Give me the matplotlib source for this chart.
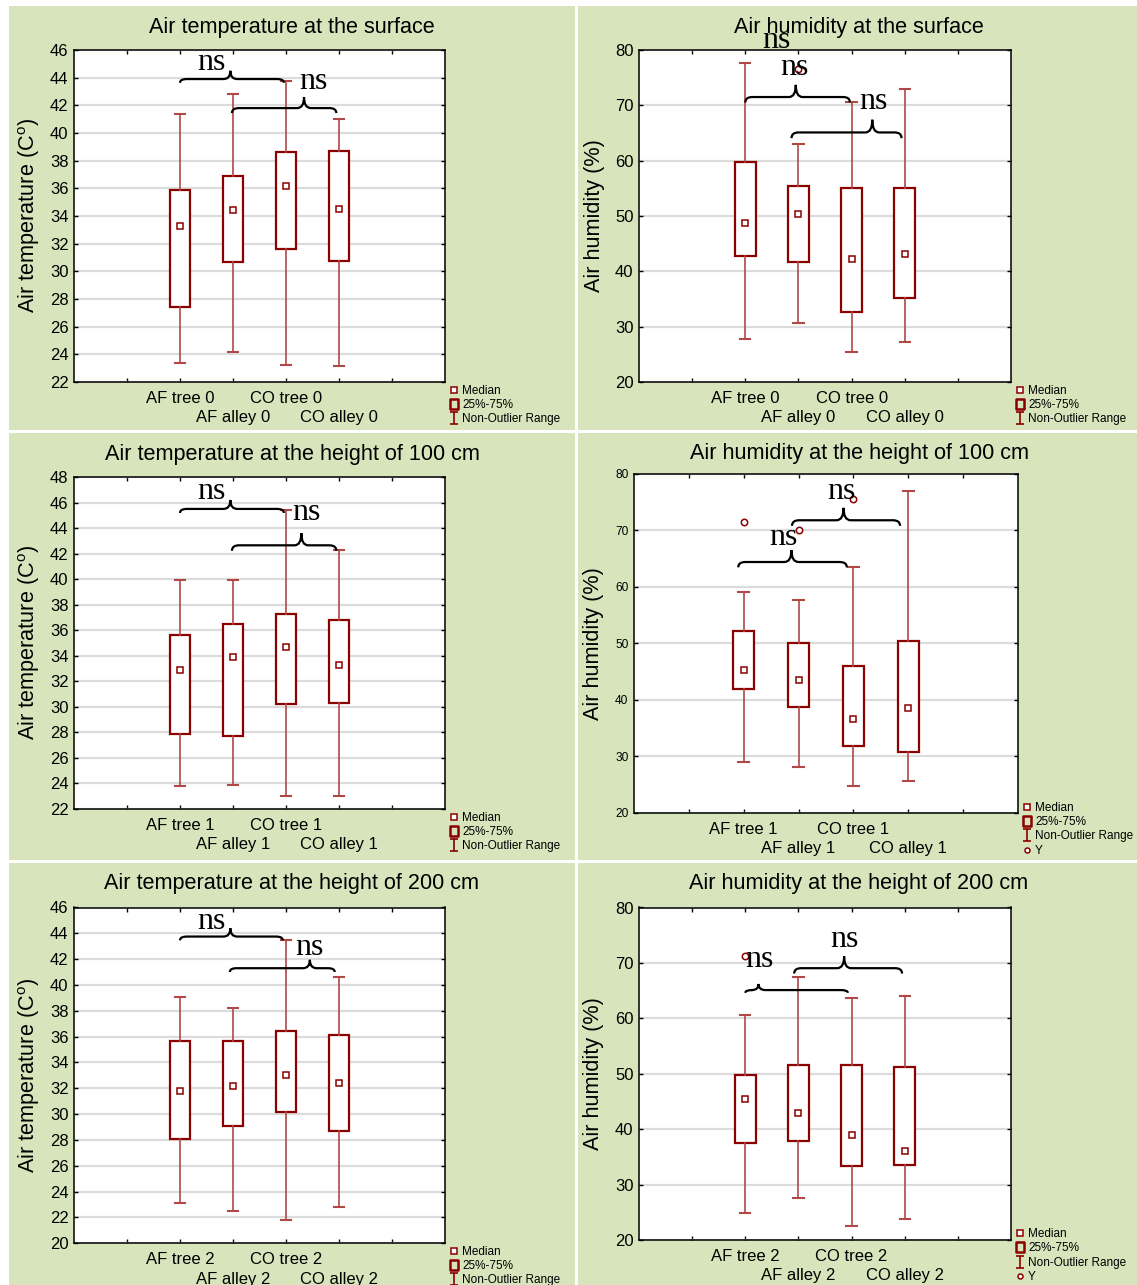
import matplotlib
matplotlib.use("Agg")
import matplotlib.pyplot as plt
from matplotlib.path import Path
from matplotlib.patches import PathPatch, Rectangle
from matplotlib.lines import Line2D

# figure size in pixels
W, H = 1137, 1285

plt.rcParams['font.family'] = ['Liberation Sans', 'DejaVu Sans']
plt.rcParams['mathtext.fontset'] = 'custom'
plt.rcParams['mathtext.rm'] = 'Liberation Sans'
plt.rcParams['mathtext.it'] = 'Liberation Sans:italic'

GREEN = '#D8E4BC'
RED = '#8B0000'
WHISK = '#B04848'
GRID = '#DCDCDC'

# ---- data ----
groups = ['AF tree', 'AF alley', 'CO tree', 'CO alley']
positions = [2, 3, 4, 5]

# temperature, surface
t0_lo = [23.4, 24.2, 23.2, 23.15]
t0_q1 = [27.45, 30.7, 31.65, 30.75]
t0_med = [33.3, 34.45, 36.2, 34.5]
t0_q3 = [35.9, 36.9, 38.6, 38.7]
t0_hi = [41.4, 42.85, 43.75, 41.0]
t0_out = [[], [], [], []]

# humidity, surface
h0_lo = [27.8, 30.7, 25.5, 27.2]
h0_q1 = [42.8, 41.7, 32.6, 35.2]
h0_med = [48.8, 50.3, 42.2, 43.2]
h0_q3 = [59.7, 55.5, 55.0, 55.0]
h0_hi = [77.6, 63.0, 70.6, 73.0]
h0_out = [[], [76.6], [], []]

# temperature, 100 cm
t1_lo = [23.8, 23.85, 23.05, 23.05]
t1_q1 = [27.9, 27.75, 30.25, 30.3]
t1_med = [32.9, 33.9, 34.7, 33.3]
t1_q3 = [35.6, 36.45, 37.3, 36.8]
t1_hi = [39.9, 39.9, 45.45, 42.25]
t1_out = [[], [], [], []]

# humidity, 100 cm
h1_lo = [29.0, 28.0, 24.7, 25.55]
h1_q1 = [41.9, 38.7, 31.8, 30.7]
h1_med = [45.25, 43.5, 36.6, 38.5]
h1_q3 = [52.2, 50.1, 46.0, 50.4]
h1_hi = [59.0, 57.7, 63.5, 77.0]
h1_out = [[71.5], [70.0], [75.5], []]

# temperature, 200 cm
t2_lo = [23.1, 22.5, 21.8, 22.8]
t2_q1 = [28.1, 29.05, 30.15, 28.7]
t2_med = [31.8, 32.2, 33.0, 32.4]
t2_q3 = [35.7, 35.7, 36.4, 36.1]
t2_hi = [39.05, 38.2, 43.45, 40.65]
t2_out = [[], [], [], []]

# humidity, 200 cm
h2_lo = [24.8, 27.5, 22.5, 23.8]
h2_q1 = [37.5, 37.9, 33.4, 33.6]
h2_med = [45.5, 42.9, 39.0, 36.0]
h2_q3 = [49.7, 51.5, 51.5, 51.3]
h2_hi = [60.6, 67.5, 63.6, 64.05]
h2_out = [[71.2], [], [], []]

# braces: (x start, x end, x tip, y, y tip)   and "ns" labels: (x, y baseline)
t0_braces = [(2.0, 3.96, 2.95, 43.9, 44.5), (2.98, 4.95, 4.34, 41.8, 42.6)]
t0_ns = [(2.6, 44.55), (4.52, 43.2)]
h0_braces = [(2.0, 3.97, 2.95, 71.5, 73.7), (2.87, 4.94, 4.39, 65.1, 67.4)]
h0_ns = [(2.58, 80.3), (2.93, 75.5), (4.41, 69.3)]
t1_braces = [(2.0, 3.96, 2.95, 45.5, 46.2), (2.98, 4.95, 4.29, 42.65, 43.6)]
t1_ns = [(2.6, 46.25), (4.38, 44.6)]
h1_braces = [(1.9, 3.88, 2.87, 64.4, 66.5), (2.88, 4.85, 3.82, 71.8, 74.0)]
h1_ns = [(2.72, 67.4), (3.78, 75.5)]
t2_braces = [(2.0, 3.94, 2.95, 43.75, 44.4), (2.94, 4.92, 4.45, 41.3, 41.95)]
t2_ns = [(2.6, 44.3), (4.45, 42.3)]
h2_braces = [(2.0, 3.93, 2.25, 65.1, 66.2), (2.92, 4.95, 3.86, 69.05, 71.2)]
h2_ns = [(2.27, 69.2), (3.86, 72.8)]

temp_label = 'Air temperature (C$^{\\mathrm{o}}$)'
hum_label = 'Air humidity (%)'

# layout: axes box in pixels (left, top, right, bottom), title centre, legend row-1 centre
panels = [
    dict(box=(74, 50, 445, 382), title='Air temperature at the surface', tpos=(292, 27),
         ylab=temp_label, ylim=(22, 46), ystep=2, tfs=12, labx=29, legy=390.7, legY=False, sfx='0',
         stats=(t0_lo, t0_q1, t0_med, t0_q3, t0_hi, t0_out), braces=t0_braces, ns=t0_ns),
    dict(box=(639, 50, 1011, 382), title='Air humidity at the surface', tpos=(859, 27),
         ylab=hum_label, ylim=(20, 80), ystep=10, tfs=12, labx=594.5, legy=390.7, legY=False, sfx='0',
         stats=(h0_lo, h0_q1, h0_med, h0_q3, h0_hi, h0_out), braces=h0_braces, ns=h0_ns),
    dict(box=(74, 477, 445, 809), title='Air temperature at the height of 100 cm', tpos=(292, 454),
         ylab=temp_label, ylim=(22, 48), ystep=2, tfs=12, labx=29, legy=817.7, legY=False, sfx='1',
         stats=(t1_lo, t1_q1, t1_med, t1_q3, t1_hi, t1_out), braces=t1_braces, ns=t1_ns),
    dict(box=(634, 474, 1018, 812.5), title='Air humidity at the height of 100 cm', tpos=(860, 453),
         ylab=hum_label, ylim=(20, 80), ystep=10, tfs=8.6, labx=593.5, legy=807.7, legY=True, sfx='1',
         stats=(h1_lo, h1_q1, h1_med, h1_q3, h1_hi, h1_out), braces=h1_braces, ns=h1_ns),
    dict(box=(74, 907.5, 445, 1243.3), title='Air temperature at the height of 200 cm', tpos=(292, 884),
         ylab=temp_label, ylim=(20, 46), ystep=2, tfs=12, labx=29, legy=1251.7, legY=False, sfx='2',
         stats=(t2_lo, t2_q1, t2_med, t2_q3, t2_hi, t2_out), braces=t2_braces, ns=t2_ns),
    dict(box=(639, 907.5, 1011, 1240), title='Air humidity at the height of 200 cm', tpos=(859, 884),
         ylab=hum_label, ylim=(20, 80), ystep=10, tfs=12, labx=593.5, legy=1234, legY=True, sfx='2',
         stats=(h2_lo, h2_q1, h2_med, h2_q3, h2_hi, h2_out), braces=h2_braces, ns=h2_ns),
]


def draw_brace(ax, x0, x1, xt, y, ytip):
    dx = 0.13
    drop = 0.45 * (ytip - y)
    verts = [(x0, y - drop), (x0, y), (x0 + dx, y),
             (xt - dx, y), (xt, y), (xt, ytip),
             (xt, y), (xt + dx, y),
             (x1 - dx, y), (x1, y), (x1, y - drop)]
    codes = [Path.MOVETO, Path.CURVE3, Path.CURVE3,
             Path.LINETO, Path.CURVE3, Path.CURVE3,
             Path.CURVE3, Path.CURVE3,
             Path.LINETO, Path.CURVE3, Path.CURVE3]
    ax.add_patch(PathPatch(Path(verts, codes), fill=False, edgecolor='black',
                           lw=1.6, clip_on=False, zorder=6))


whisk_marker = Path([(-0.57, -1), (0.57, -1), (0, -1), (0, 1), (-0.57, 1), (0.57, 1)],
                    [Path.MOVETO, Path.LINETO, Path.MOVETO, Path.LINETO, Path.MOVETO, Path.LINETO])
box_marker = Path([(-0.75, -1), (0.75, -1), (0.75, 1), (-0.75, 1), (-0.75, -1)],
                  [Path.MOVETO, Path.LINETO, Path.LINETO, Path.LINETO, Path.CLOSEPOLY])

fig = plt.figure(figsize=(W / 100, H / 100), dpi=100)
fig.patch.set_facecolor('white')

# green panel backgrounds
for (px0, py0, px1, py1) in [(9, 6, 575, 430), (578, 6, 1137, 430),
                             (9, 433, 575, 860), (578, 433, 1137, 860),
                             (9, 863, 575, 1285), (578, 863, 1137, 1285)]:
    fig.add_artist(Rectangle((px0 / W, 1 - py1 / H), (px1 - px0) / W, (py1 - py0) / H,
                             transform=fig.transFigure, facecolor=GREEN, edgecolor='none', zorder=0))

for p in panels:
    l, t, r, b = p['box']
    ax = fig.add_axes([l / W, 1 - b / H, (r - l) / W, (b - t) / H])
    ax.set_facecolor('white')

    lo, q1, med, q3, hi, out = p['stats']
    stats = []
    for i in range(len(groups)):
        stats.append(dict(whislo=lo[i], q1=q1[i], med=med[i], q3=q3[i], whishi=hi[i],
                          mean=med[i], fliers=out[i]))
    ax.bxp(stats, positions=positions, widths=0.39, patch_artist=True, showmeans=True,
           boxprops=dict(facecolor='white', edgecolor=RED, linewidth=1.6),
           whiskerprops=dict(color=WHISK, linewidth=1.2),
           capprops=dict(color=WHISK, linewidth=1.5),
           medianprops=dict(visible=False),
           meanprops=dict(marker='s', markerfacecolor='white', markeredgecolor=RED,
                          markersize=4.6, markeredgewidth=1.1),
           flierprops=dict(marker='o', markerfacecolor='white', markeredgecolor=RED,
                           markersize=4.6, markeredgewidth=1.1))

    y0, y1 = p['ylim']
    ax.set_xlim(0, 7)
    ax.set_ylim(y0, y1)
    ax.set_yticks(range(y0, y1 + 1, p['ystep']))
    ax.yaxis.grid(True, color=GRID, lw=1.6)
    ax.set_axisbelow(True)

    ax.set_xticks([1, 2, 3, 4, 5, 6])
    sfx = p['sfx']
    ax.set_xticklabels(['', groups[0] + ' ' + sfx, '\n' + groups[1] + ' ' + sfx,
                        groups[2] + ' ' + sfx, '\n' + groups[3] + ' ' + sfx, ''], fontsize=12)
    for lab in ax.get_xticklabels():
        lab.set_linespacing(1.35)
    ax.tick_params(axis='both', direction='in', length=3, width=1, top=True, right=True,
                   colors='black')
    ax.tick_params(axis='x', pad=6.5)
    ax.tick_params(axis='y', labelsize=p['tfs'], pad=4)
    for sp in ax.spines.values():
        sp.set_linewidth(1.1)

    ax.set_ylabel(p['ylab'], fontsize=15.6, va='center')
    ax.yaxis.set_label_coords((p['labx'] - l) / (r - l), 0.5)

    fig.text(p['tpos'][0] / W, 1 - p['tpos'][1] / H, p['title'], ha='center', va='center',
             fontsize=15.6)

    for br in p['braces']:
        draw_brace(ax, *br)
    for (nx, ny) in p['ns']:
        ax.text(nx, ny, 'ns', family='Liberation Serif', fontsize=23, ha='center',
                va='baseline', clip_on=False, zorder=7)

    # legend
    handles = [Line2D([], [], ls='none', marker='s', mfc='white', mec=RED, ms=3.8, mew=1.1),
               Line2D([], [], ls='none', marker=box_marker, mfc='none', mec=RED, ms=7.6, mew=1.8),
               Line2D([], [], ls='none', marker=whisk_marker, mfc='none', mec=RED, ms=9, mew=1.2)]
    labels = ['Median', '25%-75%', 'Non-Outlier Range']
    if p['legY']:
        handles.append(Line2D([], [], ls='none', marker='o', mfc='white', mec=RED, ms=3.6, mew=1.1))
        labels.append('Y')
    ax_x = (r + 4 - l) / (r - l)
    ax_y = (b - (p['legy'] - 6)) / (b - t)
    ax.legend(handles, labels, loc='upper left', bbox_to_anchor=(ax_x, ax_y), frameon=False,
              fontsize=8.5, handlelength=0.8, handletextpad=0.3, labelspacing=0.2,
              borderpad=0, borderaxespad=0)

fig.savefig('out.png', dpi=100, facecolor='white')
